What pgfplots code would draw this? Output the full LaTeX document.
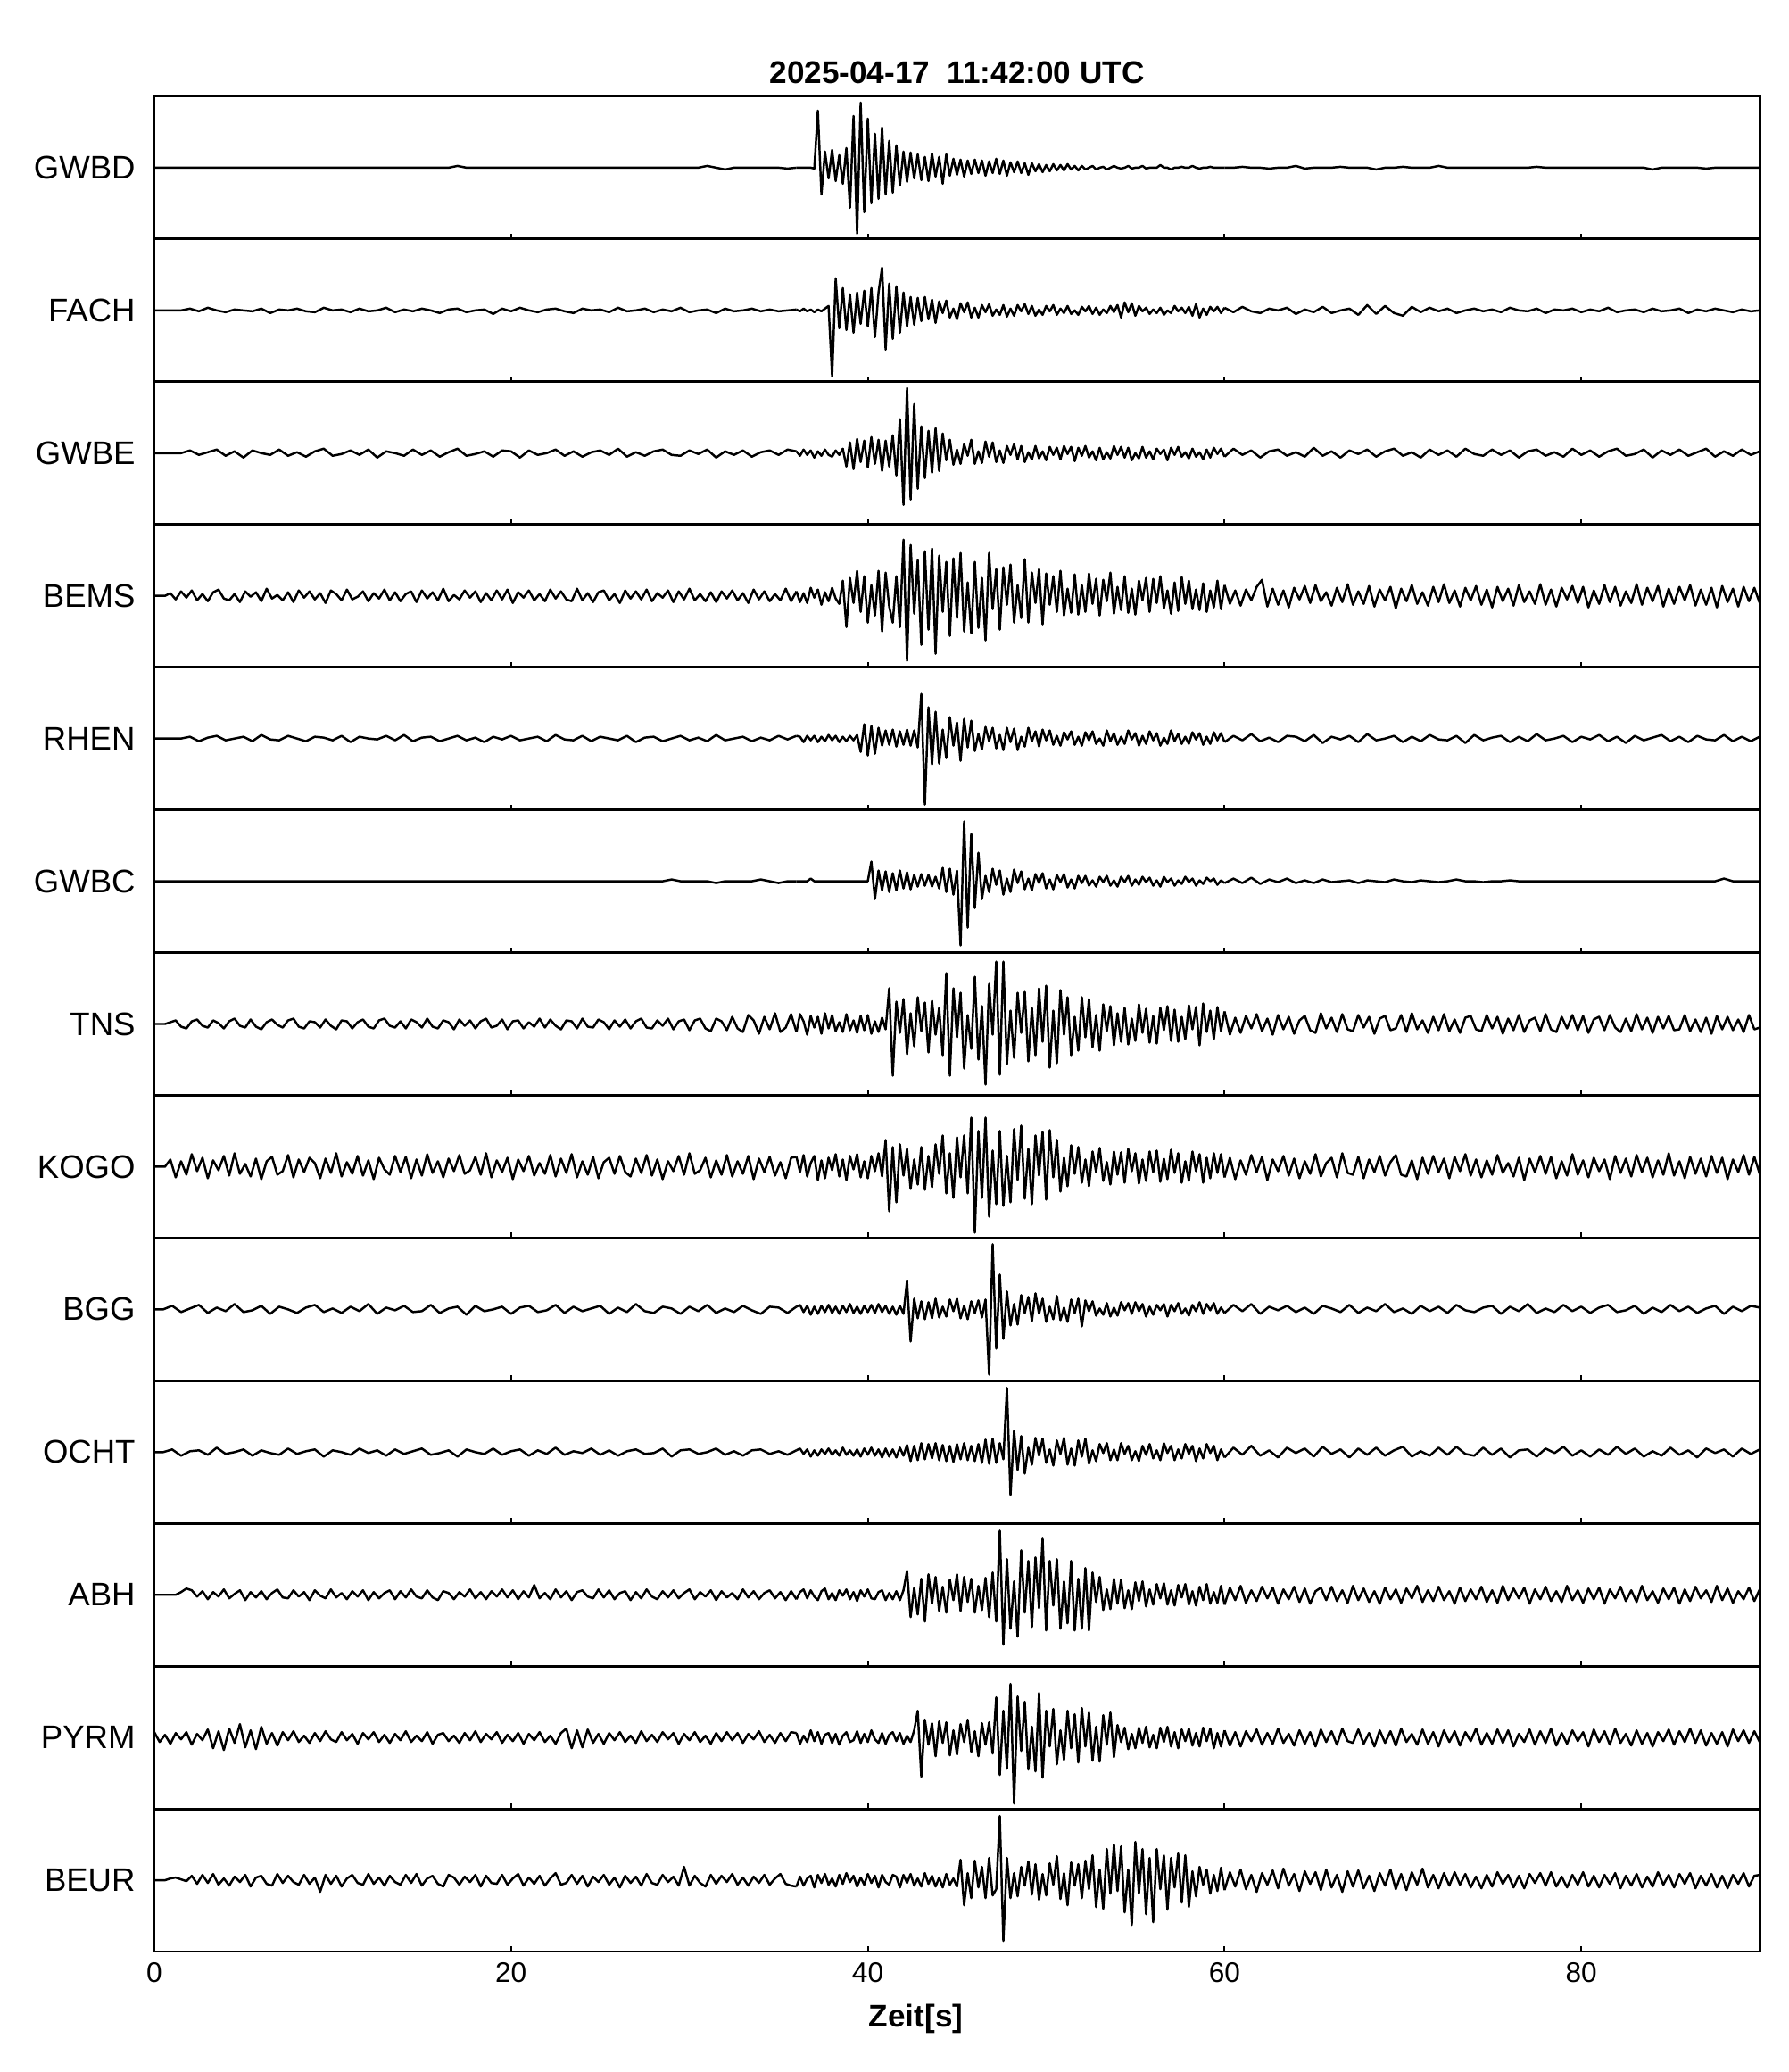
\documentclass[border=0pt]{standalone}
\usepackage{pgfplots}
\pgfplotsset{compat=1.18}
\usepgfplotslibrary{groupplots}
\usepackage{fontspec}
\setmainfont{Liberation Sans}

% one trace segment: start time, sample step, samples (amplitude in px, +-80 = half panel)
\newcommand{\trseg}[3]{\addplot[trace] table[row sep=\\, x expr={#1+#2*\coordindex}, y=y] {y\\ #3};}

\pgfplotsset{trace/.style={black, line width=0.7pt, mark=none, line join=round}}

\begin{document}
\begin{tikzpicture}
\begin{groupplot}[
  group style={group name=g, group size=1 by 13, vertical sep=0pt,
    xticklabels at=edge bottom, xlabels at=edge bottom},
  width=180mm, height=16mm, scale only axis,
  xmin=0, xmax=90, ymin=-80, ymax=80,
  xtick={0,20,40,60,80}, xtick pos=left, tick align=inside,
  major tick length=0.6mm, xtick style={line width=0.6pt, black},
  ytick={0}, ytick style={draw=none},
  axis line style={line width=0.8pt},
  xticklabel style={font=\fontsize{9}{10}\selectfont},
  yticklabel style={font=\fontsize{10.4}{12}\selectfont, xshift=-0.9mm},
  /pgf/number format/assume math mode=true,
]
% ---------------- GWBD
\nextgroupplot[yticklabels={GWBD}, title={2025-04-17\ \ 11:42:00 UTC},
  title style={font=\fontsize{10}{12}\selectfont\bfseries, yshift=-5.4pt}]
\trseg{0}{0.5}{0\\0\\0\\0\\0\\0\\0\\0\\0\\0\\
0\\0\\0\\0\\0\\0\\0\\0\\0\\0\\
0\\0\\0\\0\\0\\0\\0\\0\\0\\0\\
0\\0\\0\\0\\2\\0\\0\\0\\0\\0\\
0\\0\\0\\0\\0\\0\\0\\0\\0\\0\\
0\\0\\0\\0\\0\\0\\0\\0\\0\\0\\
0\\0\\2\\0\\-2\\0\\0\\0\\0\\0\\
0\\-1\\0\\}
\trseg{36}{0.2}{0\\0\\0\\0\\0\\-1\\64\\-30\\18\\-12\\
20\\-15\\14\\-18\\22\\-45\\58\\-74\\73\\-50\\
55\\-40\\38\\-35\\45\\-30\\30\\-28\\25\\-20\\
18\\-16\\17\\-12\\15\\-14\\12\\-15\\16\\-10\\
12\\-18\\15\\-9\\10\\-8\\9\\-10\\8\\-7\\
9\\-6\\8\\-9\\7\\-6\\10\\-7\\8\\-9\\
6\\-5\\7\\-6\\5\\-8\\5\\-4\\4\\-5\\
3\\-4\\4\\-3\\3\\-3\\4\\-2\\2\\-3\\
2\\-2\\0\\2\\-2\\0\\1\\-2\\0\\2\\
0\\-1\\0\\2\\-1\\0\\0\\2\\-1\\0\\
0\\0\\3\\0\\0\\-2\\0\\0\\1\\0\\
0\\2\\0\\-1\\0\\0\\1\\0\\0\\0\\0\\}
\trseg{60}{0.5}{0\\0\\1\\0\\0\\-1\\0\\0\\2\\-1\\
0\\0\\0\\1\\0\\0\\0\\-2\\0\\0\\
1\\0\\0\\0\\2\\0\\0\\0\\0\\0\\
0\\0\\0\\0\\0\\1\\0\\0\\0\\0\\
0\\0\\0\\0\\0\\0\\0\\0\\-2\\0\\
0\\0\\0\\0\\-1\\0\\0\\0\\0\\0\\0\\}
% ---------------- FACH
\nextgroupplot[yticklabels={FACH}]
\trseg{0}{0.5}{0\\0\\0\\0\\2\\-1\\3\\0\\-2\\1\\
0\\-1\\2\\-3\\1\\0\\2\\-1\\-2\\3\\
0\\1\\-2\\2\\-1\\0\\3\\-2\\1\\-1\\
2\\0\\-3\\1\\2\\-2\\0\\1\\-4\\2\\
-1\\3\\0\\-2\\1\\2\\-1\\-3\\2\\0\\
1\\-2\\3\\-1\\0\\2\\-2\\1\\-1\\3\\
-2\\0\\1\\-3\\2\\-1\\0\\2\\-1\\1\\
-1\\0\\1\\}
\trseg{36}{0.2}{1\\-1\\2\\-1\\1\\-2\\1\\-1\\2\\5\\
-74\\36\\-20\\25\\-22\\18\\-25\\20\\-15\\22\\
-18\\25\\-30\\20\\48\\-44\\30\\-32\\27\\-25\\
20\\-18\\15\\-16\\14\\-12\\15\\-10\\12\\-14\\
10\\-3\\11\\-8\\2\\-10\\8\\-2\\9\\-8\\
3\\-8\\6\\-2\\7\\-6\\1\\-5\\6\\-7\\
2\\-6\\6\\-1\\7\\-4\\5\\-6\\1\\-5\\
5\\-1\\6\\-5\\2\\-3\\5\\-4\\0\\-5\\
4\\-1\\5\\-4\\3\\-5\\1\\-3\\5\\-2\\
6\\-8\\9\\-2\\8\\-6\\5\\-1\\3\\-4\\
1\\-3\\3\\-5\\0\\-3\\5\\-1\\3\\-3\\
4\\-6\\7\\-8\\2\\-5\\4\\-1\\4\\-3\\3\\}
\trseg{60}{0.5}{3\\-2\\4\\-1\\-3\\2\\0\\3\\-4\\1\\
-2\\4\\-3\\0\\2\\-5\\6\\-4\\5\\-3\\
-6\\4\\-2\\3\\-1\\2\\-3\\0\\2\\-1\\
1\\-2\\3\\0\\-1\\2\\-3\\1\\0\\2\\
-2\\1\\-1\\3\\-2\\0\\1\\-2\\2\\-1\\
0\\2\\-3\\1\\-1\\2\\0\\-2\\1\\-1\\0\\}
% ---------------- GWBE
\nextgroupplot[yticklabels={GWBE}]
\trseg{0}{0.5}{0\\0\\0\\0\\3\\-2\\1\\4\\-3\\2\\
-5\\3\\0\\-2\\4\\-3\\1\\-4\\2\\5\\
-3\\-1\\3\\-2\\4\\-5\\2\\0\\-3\\4\\
-2\\3\\-4\\1\\5\\-3\\-1\\2\\-4\\3\\
2\\-5\\3\\-2\\0\\4\\-3\\2\\-4\\1\\
3\\-2\\5\\-4\\1\\-3\\2\\4\\-2\\-3\\
3\\-1\\4\\-5\\2\\-2\\3\\-4\\1\\3\\
-2\\4\\2\\}
\trseg{36}{0.2}{2\\-3\\4\\-2\\3\\-5\\2\\-3\\4\\-2\\
-4\\3\\-2\\5\\-15\\12\\-18\\16\\-10\\14\\
-16\\18\\-12\\15\\-20\\14\\-15\\20\\-25\\38\\
-58\\73\\-52\\55\\-40\\30\\-28\\25\\-22\\28\\
-20\\22\\-8\\15\\-13\\4\\-12\\10\\-3\\15\\
-12\\2\\-11\\13\\-4\\12\\-10\\3\\-11\\8\\
-2\\10\\-7\\8\\-10\\1\\-7\\8\\-6\\2\\
-8\\7\\-2\\6\\-7\\8\\-1\\7\\-9\\6\\
-3\\8\\-5\\2\\-8\\6\\-7\\1\\-6\\8\\
-2\\7\\-5\\6\\-8\\0\\-6\\7\\-5\\2\\
-7\\5\\-1\\4\\-8\\6\\-2\\7\\-4\\1\\
-6\\5\\-4\\1\\-7\\4\\-5\\6\\-1\\5\\-4\\}
\trseg{60}{0.5}{-4\\5\\-2\\3\\-5\\2\\4\\-3\\1\\-4\\
6\\-3\\2\\-5\\3\\-1\\4\\-4\\2\\5\\
-3\\1\\-5\\4\\-2\\3\\-4\\5\\-1\\-3\\
4\\-2\\3\\-5\\2\\4\\-3\\1\\-4\\5\\
-2\\3\\-4\\2\\5\\-3\\-1\\4\\-5\\3\\
-2\\4\\-3\\1\\5\\-4\\2\\-3\\4\\-2\\2\\}
% ---------------- BEMS
\nextgroupplot[yticklabels={BEMS}]
\trseg{0}{0.3}{0\\0\\0\\3\\-4\\5\\-2\\6\\-5\\2\\
-6\\4\\7\\-3\\-5\\2\\-7\\5\\-1\\4\\
-6\\8\\-3\\1\\-5\\4\\-7\\6\\-2\\5\\
-4\\3\\-8\\6\\2\\-5\\7\\-4\\-1\\5\\
-6\\3\\-3\\7\\-5\\4\\-6\\2\\5\\-7\\
6\\-3\\4\\-5\\8\\-6\\1\\-4\\6\\-2\\
5\\-7\\3\\-5\\6\\-4\\7\\-8\\4\\-2\\
6\\-5\\2\\-6\\7\\-3\\5\\-4\\-6\\8\\
-5\\3\\-7\\4\\6\\-5\\2\\-8\\6\\-3\\
5\\-4\\7\\-6\\3\\-2\\6\\-7\\5\\-4\\
8\\-5\\2\\-6\\4\\-7\\5\\-3\\6\\-5\\
3\\-8\\7\\-4\\5\\-6\\2\\-5\\8\\-6\\
5\\}
\trseg{36}{0.2}{5\\-7\\3\\-8\\9\\-2\\7\\-10\\4\\-6\\
9\\-3\\-9\\17\\-35\\20\\-8\\28\\-18\\22\\
-30\\12\\-22\\28\\-40\\26\\-12\\-30\\22\\-35\\
63\\-73\\57\\-20\\40\\-55\\50\\-38\\53\\-65\\
45\\-18\\38\\-45\\42\\-25\\48\\-40\\15\\-42\\
38\\-36\\20\\-50\\48\\-15\\30\\-38\\32\\-10\\
35\\-30\\12\\-25\\41\\-30\\26\\-8\\30\\-32\\
25\\-10\\22\\-18\\28\\-22\\8\\-19\\24\\-21\\
12\\-18\\25\\-9\\19\\-22\\18\\-6\\26\\-20\\
10\\-16\\22\\-19\\8\\-21\\17\\-5\\20\\-18\\
19\\-8\\22\\-14\\6\\-20\\15\\-17\\21\\-9\\
17\\-15\\7\\-16\\14\\-18\\6\\-13\\17\\-15\\12\\}
\trseg{60}{0.3}{12\\-9\\6\\-11\\7\\-5\\10\\18\\-12\\8\\
-10\\6\\-13\\9\\-4\\11\\-8\\12\\-6\\4\\
-11\\9\\-7\\13\\-10\\5\\-9\\11\\-12\\7\\
-5\\10\\-14\\8\\-6\\12\\-9\\4\\-11\\10\\
-7\\13\\-8\\6\\-12\\9\\-5\\11\\-10\\7\\
-13\\10\\-6\\8\\-11\\12\\-7\\5\\-9\\13\\
-10\\7\\-12\\9\\-4\\11\\-8\\10\\-13\\6\\
-9\\12\\-7\\10\\-11\\5\\-8\\13\\-10\\9\\
-6\\11\\-12\\8\\-9\\10\\-5\\12\\-11\\7\\
-10\\9\\-13\\11\\-7\\8\\-12\\10\\-6\\9\\
-8\\}
% ---------------- RHEN
\nextgroupplot[yticklabels={RHEN}]
\trseg{0}{0.5}{0\\0\\0\\0\\2\\-3\\1\\3\\-2\\0\\
2\\-3\\4\\-1\\-2\\3\\0\\-3\\2\\1\\
-2\\3\\-4\\2\\0\\-1\\3\\-2\\4\\-3\\
1\\2\\-3\\0\\3\\-2\\1\\-4\\2\\-1\\
3\\-2\\0\\2\\-3\\4\\-1\\-2\\3\\-3\\
2\\0\\-2\\3\\-4\\1\\2\\-3\\0\\3\\
-2\\1\\-3\\4\\-2\\0\\2\\-3\\1\\-2\\
3\\-1\\3\\}
\trseg{36}{0.2}{3\\2\\-4\\3\\-2\\3\\-4\\2\\-3\\4\\
-2\\3\\-4\\2\\-3\\3\\-2\\4\\-15\\16\\
-19\\14\\-17\\12\\-8\\9\\-7\\10\\-9\\8\\
-7\\10\\-8\\9\\-10\\50\\-74\\35\\-29\\30\\
-28\\10\\-22\\24\\-8\\18\\-25\\22\\-10\\20\\
-14\\5\\-12\\13\\-3\\12\\-11\\4\\-13\\12\\
-4\\11\\-13\\2\\-9\\12\\-3\\8\\-9\\10\\
-2\\9\\-7\\3\\-8\\7\\-1\\8\\-7\\2\\
-8\\7\\-2\\8\\-6\\0\\-8\\9\\-3\\6\\
-7\\2\\-6\\9\\-1\\6\\-8\\3\\-6\\8\\
-2\\6\\-8\\1\\-6\\9\\-3\\5\\-6\\2\\
-6\\7\\-1\\6\\-7\\2\\-6\\7\\-2\\6\\-4\\}
\trseg{60}{0.5}{-4\\3\\-2\\5\\-3\\1\\-4\\3\\2\\-3\\
4\\-5\\2\\-1\\3\\-4\\5\\-2\\0\\3\\
-4\\2\\-3\\4\\-1\\-2\\3\\-5\\4\\-2\\
1\\3\\-4\\2\\-3\\5\\-2\\0\\3\\-4\\
2\\-1\\4\\-3\\2\\-5\\3\\-2\\1\\4\\
-3\\2\\-4\\3\\-1\\-2\\4\\-3\\2\\-3\\2\\}
% ---------------- GWBC
\nextgroupplot[yticklabels={GWBC}]
\trseg{0}{0.5}{0\\0\\0\\0\\0\\0\\0\\0\\0\\0\\
0\\0\\0\\0\\0\\0\\0\\0\\0\\0\\
0\\0\\0\\0\\0\\0\\0\\0\\0\\0\\
0\\0\\0\\0\\0\\0\\0\\0\\0\\0\\
0\\0\\0\\0\\0\\0\\0\\0\\0\\0\\
0\\0\\0\\0\\0\\0\\0\\0\\2\\0\\
0\\0\\0\\-2\\0\\0\\0\\0\\2\\0\\
-2\\0\\0\\}
\trseg{36}{0.2}{0\\0\\0\\0\\3\\0\\0\\0\\0\\0\\
0\\0\\0\\0\\0\\0\\0\\0\\0\\0\\
0\\22\\-20\\12\\-10\\11\\-12\\9\\-10\\12\\
-8\\10\\-9\\7\\-6\\8\\-5\\7\\-6\\5\\
-8\\15\\-12\\14\\-15\\12\\-72\\67\\-52\\53\\
-30\\32\\-20\\6\\-12\\14\\-4\\12\\-15\\3\\
-12\\13\\-2\\11\\-9\\3\\-10\\8\\-2\\9\\
-8\\2\\-9\\7\\-1\\8\\-7\\2\\-8\\6\\
-2\\6\\-5\\1\\-6\\5\\-1\\6\\-5\\1\\
-6\\5\\-1\\6\\-5\\2\\-4\\5\\-1\\4\\
-5\\1\\-6\\5\\-1\\3\\-5\\1\\-3\\5\\
-1\\3\\-5\\1\\-3\\4\\0\\3\\-4\\1\\-2\\}
\trseg{60}{0.5}{-2\\3\\-2\\4\\-3\\2\\-1\\3\\-2\\1\\
-2\\2\\-1\\0\\1\\-2\\1\\0\\-1\\2\\
0\\-1\\1\\0\\-1\\0\\2\\0\\0\\-1\\
0\\0\\1\\0\\0\\0\\0\\0\\0\\0\\
0\\0\\0\\0\\0\\0\\0\\0\\0\\0\\
0\\0\\0\\0\\0\\0\\3\\0\\0\\0\\0\\}
% ---------------- TNS
\nextgroupplot[yticklabels={TNS}]
\trseg{0}{0.3}{0\\0\\0\\2\\4\\-3\\-5\\3\\5\\-2\\
-4\\4\\1\\-5\\3\\6\\-2\\-4\\5\\-3\\
-6\\2\\5\\-1\\-4\\4\\6\\-3\\-5\\3\\
2\\-4\\5\\-2\\-6\\4\\3\\-5\\2\\5\\
-3\\-5\\4\\6\\-2\\-4\\3\\-5\\5\\2\\
-4\\6\\-3\\-5\\4\\2\\-6\\5\\-2\\4\\
-5\\3\\6\\-4\\-2\\5\\-6\\3\\4\\-5\\
2\\-3\\6\\-4\\5\\-2\\-6\\4\\3\\-5\\
6\\-3\\-4\\5\\2\\-6\\4\\-3\\5\\-5\\
3\\6\\-4\\-5\\4\\-2\\6\\-6\\3\\5\\
-7\\4\\6\\-5\\-8\\6\\3\\-7\\8\\-5\\
-9\\10\\4\\-11\\8\\-6\\12\\-9\\-4\\11\\
-9\\}
\trseg{36}{0.2}{-9\\11\\3\\-12\\9\\-4\\8\\-11\\12\\-5\\
10\\-8\\2\\-9\\11\\-7\\4\\-10\\9\\-7\\
10\\-11\\3\\-9\\7\\-6\\40\\-58\\25\\-10\\
28\\-34\\12\\-25\\30\\-8\\24\\-32\\26\\-12\\
18\\-35\\57\\-58\\40\\-15\\35\\-50\\10\\-28\\
53\\-40\\20\\-68\\45\\-12\\70\\-57\\70\\-45\\
15\\-38\\35\\-10\\36\\-42\\18\\-35\\40\\-20\\
43\\-49\\15\\-44\\38\\-12\\30\\-35\\8\\-30\\
30\\-15\\28\\-26\\10\\-30\\22\\-8\\20\\-24\\
12\\-20\\18\\-23\\6\\-19\\22\\-10\\17\\-21\\
9\\-22\\18\\-7\\20\\-19\\16\\-20\\8\\-17\\
21\\-6\\19\\-24\\23\\-9\\15\\-17\\19\\-8\\14\\}
\trseg{60}{0.3}{14\\-12\\7\\-10\\9\\-5\\11\\-8\\6\\-12\\
10\\-6\\8\\-11\\4\\9\\-7\\-10\\12\\-5\\
7\\-9\\11\\-6\\-8\\10\\-4\\8\\-11\\6\\
9\\-7\\-5\\10\\-9\\12\\-6\\4\\-10\\8\\
-7\\11\\-8\\5\\-10\\7\\9\\-6\\-8\\10\\
-5\\8\\-11\\6\\-7\\10\\-9\\4\\7\\-8\\
11\\-6\\-9\\8\\-5\\10\\-7\\9\\-10\\5\\
8\\-7\\10\\-4\\-9\\6\\-8\\11\\-6\\7\\
-10\\8\\-5\\9\\-7\\-6\\10\\-8\\5\\-9\\
7\\-11\\9\\-6\\8\\-7\\5\\-9\\10\\-6\\
-4\\}
% ---------------- KOGO
\nextgroupplot[yticklabels={KOGO}]
\trseg{0}{0.3}{0\\0\\0\\8\\-12\\6\\-9\\14\\-5\\10\\
-13\\7\\-4\\12\\-10\\15\\-8\\3\\-11\\9\\
-14\\6\\11\\-9\\-5\\13\\-12\\8\\-6\\10\\
4\\-13\\9\\-7\\15\\-11\\5\\-8\\12\\-10\\
7\\-14\\10\\-3\\-9\\12\\-6\\11\\-13\\8\\
-10\\14\\-7\\6\\-12\\9\\-5\\13\\-8\\-4\\
11\\-9\\15\\-12\\7\\-6\\10\\-14\\8\\-5\\
12\\-10\\4\\-8\\13\\-11\\9\\-7\\14\\-12\\
6\\-9\\11\\-13\\5\\10\\-8\\12\\-6\\-11\\
9\\-7\\13\\-10\\8\\-14\\6\\-5\\12\\-9\\
15\\-8\\-4\\10\\-12\\7\\-9\\13\\-11\\6\\
-8\\12\\-14\\9\\-6\\11\\-10\\5\\-13\\10\\
11\\}
\trseg{36}{0.2}{11\\-6\\13\\-11\\4\\12\\-15\\7\\-13\\10\\
-4\\14\\-11\\8\\-15\\12\\-3\\14\\-12\\6\\
-13\\12\\-5\\15\\-11\\30\\-50\\22\\-40\\25\\
-10\\20\\-25\\8\\-20\\22\\-26\\12\\-23\\25\\
-8\\35\\-30\\15\\-35\\33\\-12\\35\\-30\\55\\
-74\\40\\-35\\55\\-56\\18\\-42\\40\\-44\\12\\
-40\\42\\-15\\46\\-36\\20\\-42\\35\\-10\\39\\
-37\\41\\-12\\30\\-28\\10\\-22\\24\\-8\\22\\
-18\\8\\-22\\17\\-6\\21\\-16\\5\\-20\\17\\
-9\\16\\-18\\20\\-5\\15\\-19\\8\\-16\\17\\
-6\\18\\-17\\9\\-14\\19\\-7\\15\\-18\\6\\
-16\\17\\-5\\14\\-18\\10\\-13\\15\\-7\\14\\-12\\}
\trseg{60}{0.3}{-12\\10\\-14\\7\\-9\\13\\-6\\11\\-15\\8\\
-5\\12\\-10\\9\\-13\\6\\-8\\14\\-11\\4\\
10\\-12\\15\\-7\\-9\\11\\-13\\8\\-6\\12\\
-10\\5\\13\\-9\\-11\\7\\-14\\10\\-8\\12\\
-6\\9\\-13\\11\\-5\\14\\-10\\8\\-12\\7\\
-9\\13\\-7\\4\\-11\\10\\-15\\9\\-6\\12\\
-8\\11\\-13\\6\\-10\\14\\-9\\7\\-12\\10\\
-5\\8\\-14\\12\\-7\\9\\-11\\13\\-6\\10\\
-12\\7\\-9\\15\\-10\\6\\-13\\11\\-8\\9\\
-11\\12\\-7\\10\\-14\\8\\-6\\13\\-9\\11\\
-8\\}
% ---------------- BGG
\nextgroupplot[yticklabels={BGG}]
\trseg{0}{0.5}{0\\0\\4\\-3\\1\\5\\-4\\2\\-2\\6\\
-3\\-1\\4\\-5\\3\\0\\-4\\2\\5\\-3\\
1\\-4\\3\\-2\\6\\-5\\2\\-1\\4\\-3\\
-2\\5\\-4\\1\\3\\-6\\4\\-2\\0\\3\\
-5\\2\\4\\-3\\-1\\5\\-4\\3\\-2\\1\\
4\\-5\\2\\-3\\6\\-2\\-4\\3\\1\\-5\\
3\\-2\\5\\-4\\1\\-3\\4\\-1\\-5\\3\\
2\\-4\\3\\}
\trseg{36}{0.2}{3\\5\\-3\\4\\-6\\3\\-5\\4\\-3\\5\\
-4\\3\\-5\\4\\-3\\6\\-4\\3\\-5\\4\\
-3\\5\\-4\\6\\-3\\4\\-5\\3\\-6\\4\\
-5\\32\\-36\\12\\-10\\9\\-11\\8\\-10\\12\\
-9\\3\\-8\\11\\-2\\12\\-10\\4\\-11\\9\\
-4\\10\\-9\\11\\-73\\73\\-44\\39\\-33\\20\\
-18\\6\\-17\\16\\-4\\14\\-13\\18\\-5\\12\\
-14\\3\\-11\\15\\-12\\2\\-14\\11\\-4\\12\\
-19\\10\\-2\\9\\-7\\1\\-6\\7\\-8\\2\\
-7\\8\\-1\\7\\-5\\8\\-2\\6\\-8\\3\\
-6\\5\\-1\\6\\-8\\5\\-2\\7\\-5\\1\\
-7\\5\\-2\\8\\-5\\6\\-1\\7\\-5\\2\\-4\\}
\trseg{60}{0.5}{-4\\5\\-2\\6\\-5\\3\\-1\\4\\-3\\2\\
-5\\4\\1\\-3\\5\\-4\\2\\-2\\6\\-3\\
1\\-5\\4\\-2\\3\\-4\\5\\-1\\-3\\2\\
4\\-5\\3\\-2\\6\\-4\\1\\-3\\5\\-2\\
3\\-4\\2\\5\\-3\\-1\\4\\-5\\2\\-3\\
5\\-2\\3\\-4\\1\\4\\-5\\3\\-2\\4\\2\\}
% ---------------- OCHT
\nextgroupplot[yticklabels={OCHT}]
\trseg{0}{0.5}{0\\0\\3\\-4\\1\\2\\-3\\5\\-2\\0\\
3\\-4\\2\\-1\\-3\\4\\-2\\1\\3\\-5\\
2\\0\\-3\\4\\-1\\2\\-4\\3\\-2\\1\\
4\\-3\\-1\\2\\-5\\3\\0\\-2\\4\\-3\\
1\\3\\-4\\2\\-2\\5\\-3\\1\\-1\\4\\
-3\\2\\-4\\1\\3\\-2\\-1\\4\\-5\\2\\
3\\-2\\0\\4\\-3\\1\\-4\\2\\3\\-2\\
1\\-3\\2\\}
\trseg{36}{0.2}{2\\4\\-2\\3\\-5\\2\\-4\\3\\-2\\4\\
-3\\2\\-4\\5\\-3\\2\\-4\\3\\-5\\4\\
-3\\5\\-4\\3\\-6\\4\\-5\\3\\-6\\5\\
-4\\8\\-10\\7\\-9\\10\\-8\\9\\-7\\10\\
-9\\8\\-10\\7\\-11\\9\\-8\\10\\-9\\7\\
-10\\9\\-12\\14\\-13\\15\\-12\\10\\-8\\72\\
-48\\24\\-20\\18\\-24\\5\\-14\\16\\-4\\15\\
-12\\3\\-15\\13\\-2\\16\\-14\\4\\-15\\13\\
-5\\15\\-13\\2\\-10\\9\\-1\\10\\-9\\3\\
-9\\10\\-2\\7\\-9\\1\\-10\\7\\-3\\9\\
-7\\2\\-9\\10\\-1\\7\\-9\\3\\-7\\9\\
-2\\7\\-10\\4\\-7\\9\\-1\\7\\-9\\3\\-6\\}
\trseg{60}{0.5}{-6\\5\\-3\\7\\-4\\2\\-6\\5\\-1\\4\\
-5\\6\\-2\\3\\-6\\4\\-3\\5\\-4\\2\\
6\\-5\\1\\-4\\5\\-3\\6\\-2\\-4\\5\\
-3\\4\\-6\\2\\3\\-5\\4\\-1\\6\\-4\\
2\\-5\\3\\-3\\6\\-2\\4\\-5\\1\\-4\\
5\\-3\\2\\-6\\4\\-1\\3\\-5\\4\\-2\\3\\}
% ---------------- ABH
\nextgroupplot[yticklabels={ABH}]
\trseg{0}{0.3}{0\\0\\0\\0\\0\\3\\7\\5\\-2\\4\\
-5\\3\\-2\\6\\-4\\1\\5\\-6\\3\\-3\\
4\\-5\\2\\6\\-3\\-4\\5\\-2\\3\\-6\\
5\\-1\\-4\\6\\-3\\2\\-5\\4\\-2\\5\\
-6\\3\\-4\\2\\5\\-5\\4\\-3\\6\\-2\\
-4\\5\\-3\\-6\\4\\2\\-5\\3\\-2\\6\\
-4\\3\\-5\\4\\-2\\6\\-3\\5\\-5\\4\\
-3\\11\\-4\\2\\-5\\6\\-3\\4\\-6\\3\\
5\\-2\\-4\\6\\-3\\5\\-5\\2\\4\\-6\\
3\\-4\\6\\-2\\-5\\4\\-3\\5\\-4\\2\\
6\\-5\\3\\-2\\5\\-6\\4\\-3\\2\\-5\\
6\\-3\\4\\-5\\2\\5\\-4\\3\\-6\\4\\
-5\\}
\trseg{36}{0.2}{-5\\3\\6\\-4\\5\\-2\\-6\\4\\7\\-5\\
2\\-6\\5\\-1\\6\\-5\\3\\-7\\5\\-2\\
6\\-4\\-5\\3\\5\\-6\\2\\-5\\4\\-6\\
5\\27\\-25\\8\\-22\\18\\-30\\23\\-10\\20\\
-18\\9\\-20\\17\\-6\\23\\-18\\20\\-8\\18\\
-20\\10\\-17\\19\\-25\\25\\-30\\72\\-56\\40\\
-38\\15\\-47\\50\\-20\\38\\-36\\42\\-15\\63\\
-40\\38\\-12\\40\\-38\\15\\-32\\38\\-40\\18\\
-38\\30\\-40\\25\\-8\\20\\-17\\6\\-16\\18\\
-10\\17\\-15\\5\\-16\\14\\-7\\15\\-13\\6\\
-11\\12\\-4\\13\\-11\\5\\-12\\11\\-3\\12\\
-11\\4\\-12\\9\\-6\\12\\-10\\3\\-9\\10\\-11\\}
\trseg{60}{0.3}{-11\\8\\-6\\10\\-9\\5\\-7\\9\\-4\\8\\
-10\\6\\-5\\9\\-8\\7\\-10\\4\\8\\-6\\
9\\-7\\5\\-9\\10\\-6\\7\\-8\\4\\-10\\
8\\-5\\6\\-9\\7\\-4\\10\\-8\\5\\-7\\
9\\-6\\4\\-10\\8\\-7\\6\\-5\\9\\-8\\
5\\-9\\10\\-6\\7\\-4\\8\\-10\\6\\-5\\
9\\-7\\4\\-8\\10\\-6\\5\\-9\\7\\-5\\
8\\-10\\6\\-4\\9\\-7\\5\\-8\\10\\-6\\
4\\-9\\7\\-5\\8\\-10\\6\\-7\\9\\-4\\
5\\-8\\10\\-6\\7\\-9\\4\\-5\\8\\-7\\
6\\}
% ---------------- PYRM
\nextgroupplot[yticklabels={PYRM}]
\trseg{0}{0.3}{6\\-5\\3\\-7\\5\\-2\\6\\-8\\4\\-3\\
9\\-12\\7\\-14\\10\\-6\\15\\-11\\8\\-13\\
12\\-7\\5\\-9\\6\\-3\\7\\-5\\2\\-6\\
5\\-4\\7\\-2\\-5\\6\\-3\\4\\-7\\5\\
-2\\6\\-5\\3\\-6\\4\\-3\\7\\-5\\2\\
-4\\6\\-7\\3\\5\\-4\\2\\-6\\5\\-3\\
7\\-5\\4\\-2\\6\\-6\\3\\-4\\5\\-7\\
4\\-3\\6\\-5\\2\\-7\\5\\10\\-12\\8\\
-11\\9\\-6\\4\\-7\\5\\-3\\6\\-5\\2\\
-6\\7\\-4\\3\\-5\\6\\-2\\5\\-7\\4\\
-3\\6\\-5\\2\\-7\\5\\-4\\6\\-3\\5\\
-6\\4\\-2\\7\\-5\\3\\-6\\5\\-4\\6\\
5\\}
\trseg{36}{0.2}{5\\-7\\2\\-5\\8\\-4\\6\\-7\\3\\5\\
-6\\4\\-8\\2\\6\\-5\\-3\\7\\-6\\4\\
-5\\8\\-2\\-6\\5\\-7\\3\\6\\-4\\5\\
-7\\2\\-5\\8\\30\\-44\\20\\-8\\16\\-21\\
18\\-6\\17\\-20\\8\\-19\\15\\-5\\20\\-16\\
7\\-21\\16\\-8\\17\\-18\\45\\-42\\30\\-35\\
60\\-74\\46\\-15\\40\\-36\\12\\-38\\50\\-45\\
30\\-10\\32\\-30\\8\\-25\\30\\-12\\26\\-28\\
33\\-10\\28\\-26\\12\\-27\\25\\-8\\28\\-22\\
14\\-5\\11\\-13\\4\\-12\\11\\-6\\12\\-11\\
3\\-12\\11\\-5\\12\\-10\\6\\-12\\9\\-4\\
10\\-9\\5\\-10\\11\\-4\\10\\-12\\5\\-10\\8\\}
\trseg{60}{0.3}{8\\-9\\6\\-10\\7\\-4\\9\\-8\\5\\-7\\
10\\-6\\4\\-9\\8\\-7\\6\\-10\\9\\-5\\
7\\-8\\10\\-4\\-6\\9\\-7\\5\\-10\\8\\
-6\\7\\-9\\10\\-5\\4\\-8\\9\\-7\\6\\
-10\\8\\-5\\7\\-9\\6\\-4\\10\\-8\\5\\
-7\\9\\-6\\8\\-10\\4\\-5\\9\\-8\\7\\
-6\\10\\-9\\5\\-7\\8\\-4\\6\\-10\\9\\
-5\\7\\-8\\10\\-6\\4\\-9\\8\\-7\\5\\
-10\\6\\-4\\9\\-8\\7\\-5\\10\\-6\\8\\
-9\\5\\-7\\6\\-10\\9\\-4\\8\\-6\\7\\
-5\\}
% ---------------- BEUR
\nextgroupplot[yticklabels={BEUR}, xlabel={Zeit[s]},
  xlabel style={font=\fontsize{10}{12}\selectfont\bfseries, xshift=-4.6mm}]
\trseg{0}{0.3}{0\\0\\0\\2\\3\\1\\-1\\5\\-4\\6\\
-3\\7\\-5\\2\\-6\\4\\-2\\6\\-7\\3\\
5\\-4\\-6\\7\\-3\\5\\-2\\-5\\6\\-4\\
3\\-13\\6\\-4\\5\\-7\\2\\6\\-3\\-5\\
7\\-4\\3\\-6\\5\\-2\\-5\\6\\-3\\7\\
-6\\2\\5\\-4\\-7\\6\\3\\-5\\4\\-2\\
6\\-7\\5\\-3\\-4\\6\\-5\\2\\7\\-6\\
3\\-4\\5\\-6\\2\\8\\-5\\-3\\6\\-4\\
5\\-7\\4\\-2\\6\\-5\\3\\-8\\5\\-3\\
4\\-6\\7\\-3\\-5\\6\\-2\\4\\-6\\15\\
-6\\5\\-3\\-7\\6\\-4\\5\\-2\\7\\-5\\
3\\-6\\4\\-3\\6\\-5\\2\\7\\-4\\-6\\
-7\\}
\trseg{36}{0.2}{-7\\4\\-6\\2\\5\\-8\\6\\-3\\7\\-5\\
2\\-7\\6\\-4\\8\\-2\\5\\-7\\3\\-5\\
7\\-3\\5\\-8\\6\\-2\\-5\\6\\4\\-8\\
6\\-3\\7\\-6\\2\\-7\\8\\-4\\5\\-7\\
3\\-8\\7\\-5\\2\\-7\\23\\-28\\8\\-20\\
22\\-8\\15\\-20\\25\\-17\\-10\\72\\-68\\25\\
-20\\8\\-18\\15\\-6\\21\\-16\\18\\-22\\7\\
-17\\19\\-5\\27\\-21\\8\\-28\\20\\-6\\18\\
-20\\22\\-10\\28\\-30\\12\\-32\\35\\-15\\40\\
-12\\38\\-36\\12\\-50\\43\\-15\\35\\-38\\25\\
-47\\35\\-10\\28\\-33\\25\\-8\\30\\-25\\28\\
-30\\10\\-18\\15\\-5\\12\\-15\\6\\-12\\14\\-11\\}
\trseg{60}{0.3}{-11\\9\\-7\\12\\-10\\6\\-13\\8\\-5\\11\\
-9\\13\\-6\\7\\-12\\10\\-4\\9\\-11\\12\\
-8\\6\\-13\\10\\-7\\11\\-9\\5\\-12\\8\\
-6\\12\\-10\\7\\-11\\9\\-5\\13\\-8\\6\\
-9\\8\\-6\\9\\-5\\7\\-8\\4\\-9\\6\\
-7\\9\\-4\\6\\-8\\5\\-9\\7\\-3\\8\\
-6\\9\\-7\\4\\-8\\6\\-5\\9\\-7\\5\\
-8\\6\\-4\\8\\-9\\5\\-6\\7\\-8\\4\\
-7\\9\\-5\\6\\-8\\7\\-4\\8\\-9\\5\\
-6\\7\\-8\\5\\-9\\6\\-4\\8\\-7\\5\\
6\\}
\end{groupplot}
\pgfresetboundingbox
\path[use as bounding box] ([xshift=-17.3mm,yshift=10.8mm]g c1r1.north west)
  rectangle ([xshift=3.2mm,yshift=-13.5mm]g c1r13.south east);
\end{tikzpicture}
\end{document}
